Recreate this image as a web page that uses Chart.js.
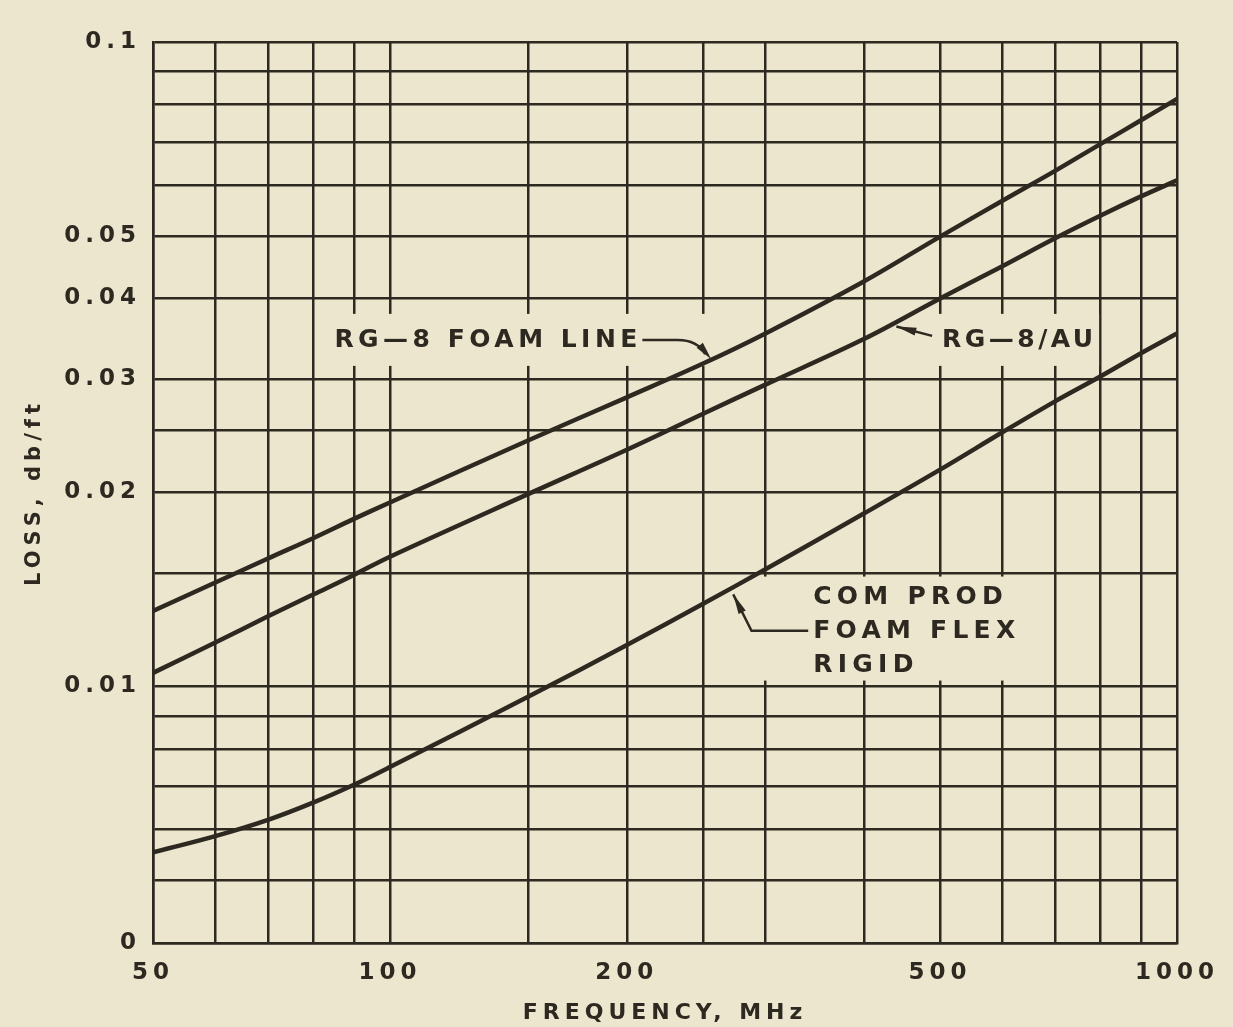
<!DOCTYPE html>
<html>
<head>
<meta charset="utf-8">
<script src="https://cdn.jsdelivr.net/npm/chart.js@4.4.1/dist/chart.umd.min.js"></script>
<style>
  html, body { margin: 0; padding: 0; background: #ece6cf; }
  canvas { display: block; }
</style>
</head>
<body>
<canvas id="lossChart" width="1233" height="1027"></canvas>
<script>
// values (MHz -> db/ft)
const freqs = [50, 60, 70, 80, 90, 100, 150, 200, 250, 300, 400, 500, 600, 700, 800, 900, 1000];
const foamLine = [0.0131, 0.0145, 0.0158, 0.0170, 0.0182, 0.0193, 0.0241, 0.0281, 0.0317, 0.0353, 0.0425, 0.0499, 0.0567, 0.0631, 0.0695, 0.0756, 0.0816];
const rg8au = [0.0105, 0.0117, 0.01285, 0.0139, 0.0149, 0.0159, 0.0199, 0.0233, 0.0265, 0.0294, 0.0346, 0.0400, 0.0449, 0.0496, 0.0538, 0.0576, 0.0610];
const comProdFlex = [0.00553, 0.00586, 0.00621, 0.00661, 0.00704, 0.0075, 0.00965, 0.0116, 0.01344, 0.0152, 0.01855, 0.0217, 0.0248, 0.0277, 0.0303, 0.0329, 0.0353];

// grid and tick labels
const xGrid = [50, 60, 70, 80, 90, 100, 150, 200, 250, 300, 400, 500, 600, 700, 800, 900, 1000];
const yGrid = [0.004, 0.005, 0.006, 0.007, 0.008, 0.009, 0.01, 0.015, 0.02, 0.025, 0.03, 0.04, 0.05, 0.06, 0.07, 0.08, 0.09, 0.1];
const xLabelValues = [50, 100, 200, 500, 1000];
const yLabelValues = [0.004, 0.01, 0.02, 0.03, 0.04, 0.05, 0.1];
const yLabelText = ['0', '0.01', '0.02', '0.03', '0.04', '0.05', '0.1'];

const paper = '#ece6cf';
const ink = '#2d2920';

function same(a, b) {
    return Math.abs(a - b) < b * 1e-6;
}

function toPoints(ys) {
    return freqs.map((f, i) => ({ x: f, y: ys[i] }));
}

// text with letter spacing stretched to a given width
function spacedText(ctx, text, x, y, width) {
    ctx.letterSpacing = '0px';
    const w = ctx.measureText(text).width;
    const sp = (width - w) / (text.length - 1);
    ctx.letterSpacing = sp + 'px';
    ctx.fillText(text, x, y);
    return sp;
}

function arrowHead(ctx, fromX, fromY, tipX, tipY, len, half) {
    const a = Math.atan2(tipY - fromY, tipX - fromX);
    const bx = tipX - len * Math.cos(a);
    const by = tipY - len * Math.sin(a);
    ctx.beginPath();
    ctx.moveTo(tipX, tipY);
    ctx.lineTo(bx + half * Math.sin(a), by - half * Math.cos(a));
    ctx.lineTo(bx - half * Math.sin(a), by + half * Math.cos(a));
    ctx.closePath();
    ctx.fill();
}

// paper colour + spaced lettering for the axis texts
const paperPlugin = {
    id: 'paper',
    beforeDraw(chart) {
        const ctx = chart.ctx;
        ctx.save();
        ctx.fillStyle = paper;
        ctx.fillRect(0, 0, chart.width, chart.height);
        ctx.restore();
        ctx.letterSpacing = '5px';
    }
};

// labels on the curves
const notesPlugin = {
    id: 'notes',
    beforeDatasetsDraw(chart) {
        const ctx = chart.ctx;
        const x = chart.scales.x, y = chart.scales.y;
        ctx.save();
        ctx.fillStyle = paper;
        // boxes that break the grid behind the texts
        let tx = x.getPixelForValue(85), ty = y.getPixelForValue(0.0345);
        ctx.fillRect(tx - 13, ty - 26, 400, 52);
        tx = x.getPixelForValue(503);
        ctx.fillRect(tx - 24, ty - 26, 181, 52);
        tx = x.getPixelForValue(345); ty = y.getPixelForValue(0.0123);
        ctx.fillRect(tx - 58, ty - 52, 275, 104);
        ctx.restore();
    },
    afterDatasetsDraw(chart) {
        const ctx = chart.ctx;
        const x = chart.scales.x, y = chart.scales.y;
        ctx.save();
        ctx.fillStyle = ink;
        ctx.strokeStyle = ink;
        ctx.lineWidth = 2.5;
        ctx.font = 'bold 25px "DejaVu Sans"';
        ctx.textBaseline = 'middle';
        ctx.textAlign = 'left';

        // RG-8 FOAM LINE
        let tx = x.getPixelForValue(85), ty = y.getPixelForValue(0.0345);
        spacedText(ctx, 'RG\u20148 FOAM LINE', tx, ty + 1, 303);
        let sx = tx + 308, ex = x.getPixelForValue(232);
        let tipX = x.getPixelForValue(256), tipY = y.getPixelForValue(0.0322);
        let cx = x.getPixelForValue(246);
        ctx.beginPath();
        ctx.moveTo(sx, ty);
        ctx.lineTo(ex, ty);
        ctx.quadraticCurveTo(cx, ty, tipX - 6, tipY - 5);
        ctx.stroke();
        arrowHead(ctx, cx - 4, ty - 2, tipX, tipY, 18, 4);

        // RG-8/AU
        tx = x.getPixelForValue(503);
        spacedText(ctx, 'RG\u20148/AU', tx, ty + 1, 151);
        tipX = x.getPixelForValue(440); tipY = y.getPixelForValue(0.0362);
        ctx.beginPath();
        ctx.moveTo(tx - 10, ty - 4);
        ctx.lineTo(tipX, tipY);
        ctx.stroke();
        arrowHead(ctx, tx - 10, ty - 4, tipX, tipY, 20, 4);

        // COM PROD FOAM FLEX RIGID
        tx = x.getPixelForValue(345); ty = y.getPixelForValue(0.0122);
        const sp = spacedText(ctx, 'FOAM FLEX', tx, ty + 1, 202);
        ctx.letterSpacing = sp + 'px';
        ctx.fillText('COM PROD', tx, ty - 33);
        ctx.fillText('RIGID', tx, ty + 35);
        ex = x.getPixelForValue(288);
        tipX = x.getPixelForValue(273); tipY = y.getPixelForValue(0.0139);
        ctx.beginPath();
        ctx.moveTo(tx - 5, ty);
        ctx.lineTo(ex, ty);
        ctx.lineTo(tipX, tipY);
        ctx.stroke();
        arrowHead(ctx, ex, ty, tipX, tipY, 20, 4);
        ctx.restore();
    }
};

Chart.defaults.font.family = '"DejaVu Sans"';
Chart.defaults.color = ink;

const lineStyle = {
    borderColor: ink,
    borderWidth: 4.5,
    pointRadius: 0,
    tension: 0.35,
    fill: false
};

const ctx = document.getElementById('lossChart').getContext('2d');
const myChart = new Chart(ctx, {
    type: 'line',
    data: {
        datasets: [
            Object.assign({ label: 'RG-8 FOAM LINE', data: toPoints(foamLine) }, lineStyle),
            Object.assign({ label: 'RG-8/AU', data: toPoints(rg8au) }, lineStyle),
            Object.assign({ label: 'COM PROD FOAM FLEX RIGID', data: toPoints(comProdFlex) }, lineStyle)
        ]
    },
    options: {
        responsive: false,
        animation: false,
        layout: {
            padding: { top: 42, right: 56, left: 0, bottom: 0 }
        },
        plugins: {
            legend: { display: false },
            tooltip: { enabled: false }
        },
        scales: {
            x: {
                type: 'logarithmic',
                position: 'bottom',
                min: 50,
                max: 1000,
                afterBuildTicks: s => { s.ticks = xGrid.map(v => ({ value: v })); },
                afterFit: s => { s.height = 84; },
                grid: { color: ink, lineWidth: 2.5, drawTicks: false },
                border: { color: ink, width: 2.5 },
                ticks: {
                    autoSkip: false,
                    maxRotation: 0,
                    padding: 16,
                    font: { size: 23, weight: 'bold' },
                    callback: value => xLabelValues.some(v => same(value, v)) ? String(value) : ''
                },
                title: {
                    display: true,
                    text: 'FREQUENCY, MHz',
                    font: { size: 22, weight: 'bold' },
                    padding: { top: 0, bottom: 1 }
                }
            },
            y: {
                type: 'logarithmic',
                min: 0.004,
                max: 0.1,
                afterBuildTicks: s => { s.ticks = yGrid.map(v => ({ value: v })); },
                afterFit: s => { s.width = 153; },
                grid: { color: ink, lineWidth: 2.5, drawTicks: false },
                border: { color: ink, width: 2.5 },
                ticks: {
                    autoSkip: false,
                    padding: 12,
                    font: { size: 23, weight: 'bold' },
                    callback: value => {
                        const i = yLabelValues.findIndex(v => same(value, v));
                        return i === -1 ? '' : yLabelText[i];
                    }
                },
                title: {
                    display: true,
                    text: 'LOSS, db/ft',
                    font: { size: 21, weight: 'bold' },
                    padding: { top: 22, bottom: 0 }
                }
            }
        }
    },
    plugins: [paperPlugin, notesPlugin]
});
</script>
</body>
</html>
